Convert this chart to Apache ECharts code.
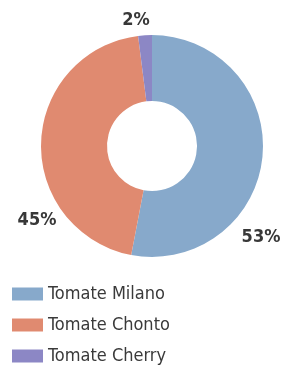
<!DOCTYPE html>
<html>
<head>
<meta charset="utf-8">
<script src="https://cdn.jsdelivr.net/npm/echarts@6/dist/echarts.min.js"></script>
<style>
  html, body { margin: 0; padding: 0; background: #fff; }
  #chart { width: 288px; height: 367px; }
</style>
</head>
<body>
<div id="chart"></div>
<script>
// datos
var categories = ['Tomate Milano', 'Tomate Chonto', 'Tomate Cherry'];
var values = [53, 45, 2];
var colors = ['#87a9cb', '#e08a70', '#8c87c5'];

// donde van las etiquetas de porcentaje (a mano, como en el original)
var labelPos = [[261, 237], [37, 220], [136, 20]];

var chart = echarts.init(document.getElementById('chart'));
chart.setOption({
  animation: false,
  color: colors,
  legend: {
    orient: 'vertical',
    left: 12,
    top: 285,
    height: 120,
    padding: 0,
    itemWidth: 31,
    itemHeight: 13,
    itemGap: 13,
    icon: 'rect',
    data: categories,
    textStyle: {
      color: '#3a3a3a',
      fontSize: 18,
      fontFamily: 'DejaVu Sans Condensed, sans-serif'
    }
  },
  series: [
    {
      type: 'pie',
      center: [152, 146],
      radius: [45, 111],
      startAngle: 90,
      clockwise: true,
      label: {
        show: true,
        position: 'outside',
        overflow: 'none',
        formatter: '{d}%',
        color: '#383838',
        fontSize: 18,
        fontWeight: 'bold',
        fontFamily: 'DejaVu Sans Condensed, sans-serif'
      },
      labelLine: { show: false },
      labelLayout: function (params) {
        var p = labelPos[params.dataIndex];
        return { x: p[0], y: p[1], align: 'center', verticalAlign: 'middle' };
      },
      emphasis: { disabled: true },
      data: categories.map(function (name, i) {
        return { name: name, value: values[i] };
      })
    }
  ]
});
</script>
</body>
</html>
